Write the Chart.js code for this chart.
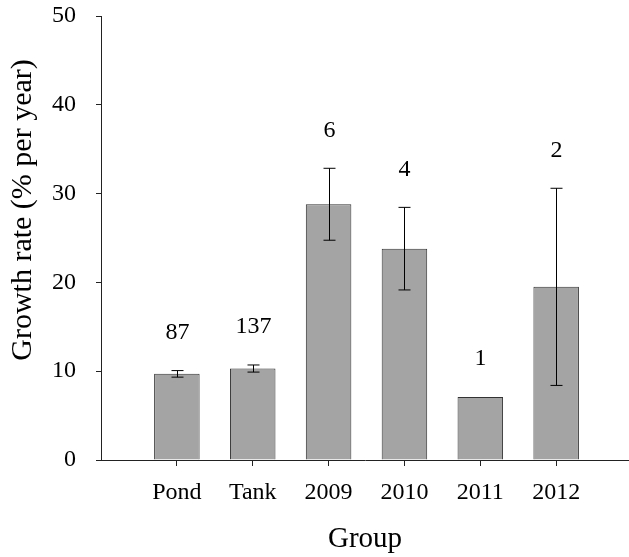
<!DOCTYPE html>
<html>
<head>
<meta charset="utf-8">
<script src="https://cdn.jsdelivr.net/npm/chart.js@4"></script>
<style>
    body { margin: 0; background: #fff; }
    #wrap { width: 629px; height: 557px; }
</style>
</head>
<body>
<div id="wrap"><canvas id="growthChart" width="629" height="557"></canvas></div>
<script>
// Chart values
const groups = ['Pond', 'Tank', '2009', '2010', '2011', '2012'];
const means = [9.7, 10.3, 28.8, 23.8, 7.1, 19.5];
const errors = [0.37, 0.4, 4.05, 4.65, 0, 11.1];
const sampleSizes = ['87', '137', '6', '4', '1', '2'];
const yTicks = [0, 10, 20, 30, 40, 50];
const yTitle = 'Growth rate (% per year)';

const serif = 'Liberation Serif';

// Draws error bars, the n labels above each bar and the y title
const errorBarPlugin = {
    id: 'errorBars',
    afterDatasetsDraw(chart) {
        const ctx = chart.ctx;
        const x = chart.scales.x;
        const y = chart.scales.y;
        ctx.save();
        ctx.strokeStyle = '#000';
        ctx.lineWidth = 1;
        groups.forEach((g, i) => {
            const px = Math.round(x.getPixelForValue(i + 1)) + 0.5;
            const top = y.getPixelForValue(means[i] + errors[i]);
            const bottom = y.getPixelForValue(means[i] - errors[i]);
            if (errors[i] > 0) {
                ctx.beginPath();
                ctx.moveTo(px, top);
                ctx.lineTo(px, bottom);
                ctx.moveTo(px - 6, top);
                ctx.lineTo(px + 6, top);
                ctx.moveTo(px - 6, bottom);
                ctx.lineTo(px + 6, bottom);
                ctx.stroke();
            }
            ctx.fillStyle = '#000';
            ctx.font = '24px "' + serif + '"';
            ctx.textAlign = 'center';
            ctx.textBaseline = 'middle';
            ctx.fillText(sampleSizes[i], px, top - 38);
        });

        // y axis title sits a bit above the middle of the axis
        ctx.translate(23, 210);
        ctx.rotate(-Math.PI / 2);
        ctx.font = '30px "' + serif + '"';
        ctx.fillText(yTitle, 0, 0);
        ctx.restore();
    }
};

new Chart(document.getElementById('growthChart'), {
    type: 'bar',
    data: {
        datasets: [{
            data: groups.map((g, i) => ({ x: i + 1, y: means[i] })),
            backgroundColor: '#a4a4a4',
            borderColor: '#333',
            borderWidth: 1,
            barPercentage: 0.6,
            categoryPercentage: 1
        }]
    },
    options: {
        responsive: false,
        animation: false,
        devicePixelRatio: 1,
        layout: { padding: { top: 16, right: 0, left: 0, bottom: 0 } },
        plugins: {
            legend: { display: false },
            tooltip: { enabled: false }
        },
        scales: {
            x: {
                type: 'linear',
                offset: false,
                min: 0,
                max: 6.96,
                afterBuildTicks: scale => {
                    scale.ticks = groups.map((g, i) => ({ value: i + 1 }));
                },
                afterFit: scale => {
                    scale.height = 97;
                    scale.paddingLeft = 0;
                    scale.paddingRight = 0;
                },
                border: { display: true, color: '#222', width: 1 },
                grid: {
                    offset: false,
                    drawOnChartArea: false,
                    drawTicks: true,
                    tickLength: 6,
                    color: '#222'
                },
                ticks: {
                    autoSkip: false,
                    maxRotation: 0,
                    padding: 12,
                    color: '#000',
                    font: { family: serif, size: 24 },
                    callback: v => groups[v - 1] || ''
                },
                title: {
                    display: true,
                    text: 'Group',
                    color: '#000',
                    font: { family: serif, size: 29, lineHeight: 1.2 },
                    padding: { top: 0, bottom: 0 }
                }
            },
            y: {
                min: 0,
                max: 50,
                afterBuildTicks: scale => {
                    scale.ticks = yTicks.map(v => ({ value: v }));
                },
                afterFit: scale => {
                    scale.width = 101;
                    scale.paddingTop = 0;
                    scale.paddingBottom = 0;
                },
                border: { display: true, color: '#222', width: 1 },
                grid: {
                    drawOnChartArea: false,
                    drawTicks: true,
                    tickLength: 5,
                    color: '#222'
                },
                ticks: {
                    padding: 20,
                    color: '#000',
                    font: { family: serif, size: 24 }
                }
            }
        }
    },
    plugins: [errorBarPlugin]
});
</script>
</body>
</html>
